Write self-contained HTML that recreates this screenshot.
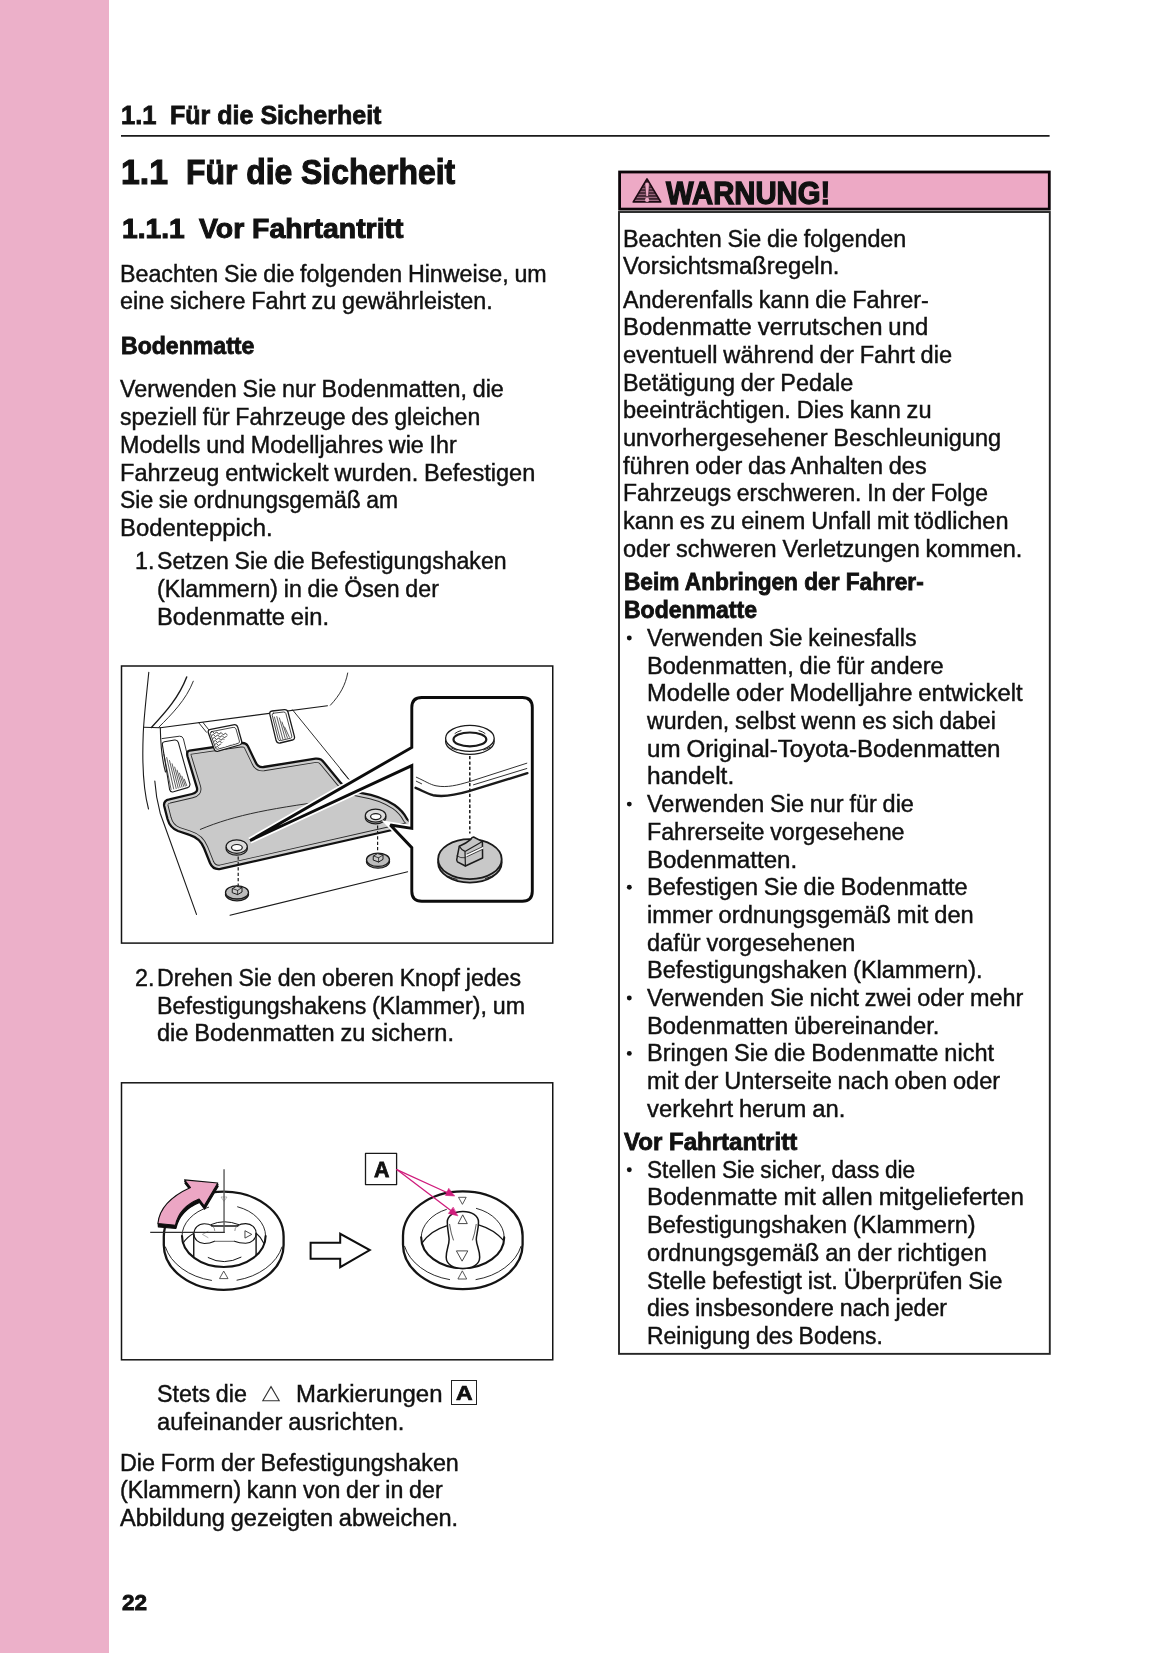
<!DOCTYPE html>
<html lang="de">
<head>
<meta charset="utf-8">
<title>1.1 Für die Sicherheit</title>
<style>
html,body{margin:0;padding:0;background:#fff}
body{width:1165px;height:1653px;position:relative;overflow:hidden;
 font-family:"Liberation Sans",sans-serif;color:#111}
.side{position:absolute;left:0;top:0;width:109px;height:1653px;background:#ecb0c9}
.t{position:absolute;white-space:nowrap;line-height:1;transform-origin:0 50%;margin:0;color:#111}
.b{font-size:23px;font-weight:400;-webkit-text-stroke:0.42px #111;word-spacing:-0.7px}
.bb{font-size:23px;font-weight:700;-webkit-text-stroke:0.8px #111;word-spacing:0px}
.hd{font-size:25px;font-weight:700;-webkit-text-stroke:0.8px #111;word-spacing:0px}
.h1{font-size:34.5px;font-weight:700;-webkit-text-stroke:1.1px #111;word-spacing:0px}
.h2{font-size:27.5px;font-weight:700;-webkit-text-stroke:1px #111;word-spacing:0px}
.wn{font-size:31px;font-weight:700;-webkit-text-stroke:1.3px #111;word-spacing:0px}
.pg{font-size:22px;font-weight:700;-webkit-text-stroke:0.8px #111;word-spacing:0px}
.lbl{font-size:20px;font-weight:700;-webkit-text-stroke:0.7px #111;word-spacing:0px}
.lb2{font-size:22.5px;font-weight:700;-webkit-text-stroke:0.8px #111;word-spacing:0px}
.fig{position:absolute;left:120px;width:434px;height:280px}
.fig svg{position:absolute;left:0;top:0;display:block}
#f1{top:665px}
#f2{top:1082px}
.frame{position:absolute;left:0;top:0}
.tx{position:absolute;left:0;top:0;width:1165px;height:1653px;will-change:transform}
.ico{position:absolute}
</style>
</head>
<body>
<div class="side"></div>
<svg class="frame" width="1165" height="1653" viewBox="0 0 1165 1653" fill="none">
 <path d="M121 135.9 H1049.6" stroke="#1a1a1a" stroke-width="1.7"/>
 <rect x="619.6" y="172" width="429.7" height="37.1" fill="#eda9c5" stroke="#0d0509" stroke-width="2.8"/>
 <rect x="619" y="212" width="430.8" height="1141.85" fill="#fff" stroke="#262626" stroke-width="1.9"/>
 <rect x="121.5" y="666" width="431.25" height="277.1" fill="#fff" stroke="#141414" stroke-width="1.5"/>
 <rect x="121.5" y="1082.8" width="431.25" height="277" fill="#fff" stroke="#141414" stroke-width="1.5"/>
</svg>
<svg class="ico" style="left:630px;top:176px" width="34" height="30" viewBox="630 176 34 30">
 <defs>
  <pattern id="st" x="0" y="177.6" width="40" height="2.95" patternUnits="userSpaceOnUse">
   <rect x="0" y="0" width="40" height="1.75" fill="#1c0a12"/>
   <rect x="0" y="1.75" width="40" height="1.2" fill="#b07690"/>
  </pattern>
 </defs>
 <path d="M647 178.9 L660.7 201.9 L633.3 201.9 Z" fill="url(#st)" stroke="#1c0a12" stroke-width="1.7" stroke-linejoin="round"/>
 <path d="M644.9 183.8 Q647.1 180.6 649.4 183.8 L648.4 196.5 L645.9 196.5 Z" fill="#eda9c5" stroke="#1c0a12" stroke-width="0.5"/>
 <circle cx="647.1" cy="199.9" r="2.1" fill="#eda9c5"/>
</svg>
<div class="fig" id="f1"><svg width="434" height="280" viewBox="120 665 434 280" fill="none" stroke="#1a1a1a" stroke-width="1.1" stroke-linecap="round" stroke-linejoin="round">
 <defs>
  <path id="mat" d="M189.5 750.6 L242 743 Q246 742.8 247.8 746 L255.5 762 Q257.8 767.6 263.5 767 L315.5 758.6 Q321 758 324 762.5 L340.4 782.4 Q347 790.5 362 793.2 Q380 796 394.5 805 Q403 811 407 819 L414 826 L414 825 L390 830.5 L220.5 868.9 Q213 870 210 863 L204 848 Q200 838 189.5 834.8 L178 831 Q170 828 167.5 819 L164.2 806 Q163.2 800.5 169.4 799.3 L192 794 Q198.2 792.5 196.9 787.6 L187.5 756.5 Q186.3 751.2 189.5 750.6 Z"/>
  <clipPath id="matc"><use href="#mat"/></clipPath>
  <clipPath id="brk"><path d="M210.3 731.4 L234.5 726.6 L239.6 742.4 L216.3 749.3 Z"/></clipPath>
 </defs>
 <!-- car body lines -->
 <path d="M148.8 672.2 C146 700 143.6 720 143.2 735 C142 765 143.5 790 148.5 809"/>
 <path d="M186.7 677 C179 697 166 712 151.4 727.4" stroke-width="1.4"/>
 <path d="M193.3 681.2 C186 700 172 714 158.6 727.4" stroke-width="0.9"/>
 <path d="M143.6 727.3 L160.3 727.8 L327.5 705.7"/>
 <path d="M330.4 705.2 C340 695 345.5 685 347.7 673" stroke-width="0.9"/>
 <path d="M160.3 727.8 C160.6 745 162 760 165.5 772"/>
 <path d="M154.8 781 C155.5 792 158 805 160.2 813.2 L196.5 914.4" />
 <path d="M230 915.2 L407.7 871.8"/>
 <path d="M292.5 709.8 L352 783 M340.5 769.5 L348 778.6" stroke-width="0.9"/>
 <!-- dead pedal -->
 <path d="M162 738.6 L179.5 736.2 Q182.5 736 183.4 738.8 L187 753.5" stroke-width="0.9"/>
 <path d="M164.4 741.8 L174.5 740 Q177.3 739.6 178.3 742.4 L189.8 783.5 Q190.6 786.7 187.6 787.6 L173.5 791.8 Q170.5 792.6 169.6 789.5 L162.4 744.8 Q162 742.2 164.4 741.8 Z" fill="#fff"/>
 <path d="M163.9 754.5 L171.1 789.4 M166.7 757.5 L173.7 789 M169.5 760.5 L176.2 788.6 M172.1 763.8 L178.2 788 M174.7 767.1 L180.1 787.5 M177.1 770.2 L182 787 M179.5 773.2 L183.7 786.4 M181.9 776.2 L185.3 786 M184.3 779.2 L186.7 785.6" stroke-width="0.7"/>
 <!-- gas pedal -->
 <path d="M272.2 711 L284.4 709.6 Q287.2 709.4 288 712 L294.4 736.4 Q295.2 739.2 292.4 740 L280 743 Q277 743.6 276.2 740.8 L269.8 714.2 Q269.2 711.4 272.2 711 Z" fill="#fff" stroke-width="1.3"/>
 <path d="M273.4 713.2 L283.6 712 Q285.4 711.9 285.9 713.6 L291.8 736.2 Q292.2 737.8 290.6 738.2 L280.4 740.6 Q278.6 741 278.2 739.2 L272.2 715.2 Q271.8 713.5 273.4 713.2 Z" stroke-width="0.8"/>
 <path d="M274.4 717 L280.4 739.6 M276.8 716.6 L282.8 739 M279.4 718 L285.2 738.4 M282 722 L287.4 737.8 M284.6 727 L289.4 737.2" stroke-width="0.7"/>
 <!-- mat -->
 <use href="#mat" fill="#c9c9c9" stroke="none"/>
 <g clip-path="url(#matc)">
  <use href="#mat" stroke="#2a2a2a" stroke-width="8.6"/>
  <use href="#mat" stroke="#cecece" stroke-width="6.8"/>
 </g>
 <use href="#mat" stroke="#111" stroke-width="2.3"/>
 <path d="M200.3 829.4 C236 814.5 272 808 345 798.5" stroke-width="0.9"/>
 <!-- brake pedal -->
 <path d="M198.7 722.7 L206.5 732.3 M202.9 722.4 L208.6 729.6" stroke-width="0.9"/>
 <path d="M210.6 729.4 L233.4 724.8 Q236.8 724.2 237.8 727.4 L241.6 741 Q242.4 744 239.4 745 L218.2 751.2 Q215.2 752 214.2 749.2 L208.4 733 Q207.4 730 210.6 729.4 Z" fill="#fff" stroke-width="1.3"/>
 <path d="M211.6 731.6 L233 727.4 Q235.4 727 236 729 L239.4 741 Q240 742.8 238 743.4 L218 749.2 Q216.2 749.7 215.6 748 L210.4 733.6 Q209.8 732 211.6 731.6 Z" stroke-width="0.8"/>
 <g clip-path="url(#brk)" stroke-width="0.8">
  <path d="M210 733 l2.4 -1.6 l2 2.2 l2.4 -1.6 l2 2.2 l2.4 -1.6 l2 2.2 l2.4 -1.6 l2 2.2"/>
  <path d="M211 736 l2.4 -1.6 l2 2.2 l2.4 -1.6 l2 2.2 l2.4 -1.6 l2 2.2 l2.4 -1.6 l2 2.2 l2.4 -1.6"/>
  <path d="M212 739 l2.4 -1.6 l2 2.2 l2.4 -1.6 l2 2.2 l2.4 -1.6 l2 2.2 l2.4 -1.6 l2 2.2 l2.4 -1.6 l2 2.2"/>
  <path d="M213 742 l2.4 -1.6 l2 2.2 l2.4 -1.6 l2 2.2 l2.4 -1.6 l2 2.2 l2.4 -1.6 l2 2.2 l2.4 -1.6 l2 2.2 l2.4 -1.6"/>
  <path d="M214 745 l2.4 -1.6 l2 2.2 l2.4 -1.6 l2 2.2 l2.4 -1.6 l2 2.2 l2.4 -1.6 l2 2.2 l2.4 -1.6 l2 2.2 l2.4 -1.6"/>
  <path d="M215 748 l2.4 -1.6 l2 2.2 l2.4 -1.6 l2 2.2 l2.4 -1.6 l2 2.2 l2.4 -1.6 l2 2.2 l2.4 -1.6 l2 2.2 l2.4 -1.6"/>
 </g>
 <path d="M233.5 727.6 L238 742.6 L218 748.6 Z" fill="#fff" stroke="none"/>
 <!-- grommets on mat -->
 <g stroke-width="1.2">
  <ellipse cx="236.7" cy="848.4" rx="10.6" ry="6.7" fill="#bdbdbd"/>
  <ellipse cx="236.7" cy="846.6" rx="10.6" ry="6.7" fill="#dcdcdc"/>
  <ellipse cx="236.9" cy="847.6" rx="5.4" ry="3.1" fill="#fff"/>
  <ellipse cx="375.6" cy="817.4" rx="10.3" ry="6.5" fill="#bdbdbd"/>
  <ellipse cx="375.6" cy="815.6" rx="10.3" ry="6.5" fill="#dcdcdc"/>
  <ellipse cx="375.8" cy="816.6" rx="5.2" ry="3" fill="#fff"/>
 </g>
 <path d="M238.2 856.5 V886" stroke-dasharray="3.2 2.2" stroke-linecap="butt" stroke-width="1.2"/>
 <path d="M377.6 825.5 V852" stroke-dasharray="3.2 2.2" stroke-linecap="butt" stroke-width="1.2"/>
 <!-- clips -->
 <g stroke-width="1.3">
  <ellipse cx="237" cy="894.2" rx="11.5" ry="6.6" fill="#9c9c9c"/>
  <ellipse cx="237" cy="892.4" rx="11.5" ry="6.6" fill="#bcbcbc"/>
  <path d="M232.6 888.6 L236.4 886.2 L242 887.6 L242 892 L237.6 894.6 L232.6 892.8 Z" fill="#c8c8c8" stroke-width="1"/>
  <path d="M232.6 888.6 L237.6 890.4 L242 887.6 M237.6 890.4 V894.6" stroke-width="0.8"/>
  <ellipse cx="378" cy="861.6" rx="11.5" ry="6.6" fill="#9c9c9c"/>
  <ellipse cx="378" cy="859.8" rx="11.5" ry="6.6" fill="#bcbcbc"/>
  <path d="M373.6 856 L377.4 853.6 L383 855 L383 859.4 L378.6 862 L373.6 860.2 Z" fill="#c8c8c8" stroke-width="1"/>
  <path d="M373.6 856 L378.6 857.8 L383 855 M378.6 857.8 V862" stroke-width="0.8"/>
 </g>
 <!-- callout -->
 <path id="co" d="M421.8 697.5 H522.3 Q532.3 697.5 532.3 707.5 V891.2 Q532.3 901.2 522.3 901.2 H421.8 Q411.8 901.2 411.8 891.2 V847.7 L390.3 825 L411.8 828.4 V765.6 L250 840.6 L411.8 747.4 V707.5 Q411.8 697.5 421.8 697.5 Z" fill="#fff" stroke="#fff" stroke-width="6.4" stroke-linejoin="miter"/>
 <path d="M421.8 697.5 H522.3 Q532.3 697.5 532.3 707.5 V891.2 Q532.3 901.2 522.3 901.2 H421.8 Q411.8 901.2 411.8 891.2 V847.7 L390.3 825 L411.8 828.4 V765.6 L250 840.6 L411.8 747.4 V707.5 Q411.8 697.5 421.8 697.5 Z" fill="#fff" stroke="#0c0c0c" stroke-width="2.9" stroke-linejoin="miter" stroke-miterlimit="3"/>
 <!-- ring -->
 <g stroke-width="1.3">
  <ellipse cx="469.9" cy="741.3" rx="24.3" ry="13" fill="#fff"/>
  <ellipse cx="469.9" cy="738.3" rx="24.3" ry="13" fill="#fff"/>
  <ellipse cx="469.9" cy="739.4" rx="16.4" ry="6.9" stroke-width="2.2"/>
  <path d="M455 733.4 Q457.5 731.4 461 730.6 M479 730.6 Q482.5 731.4 485 733.4" stroke-width="0.9"/>
  <path d="M451 747.8 Q454 749.5 457 750.2 M483.5 750 Q487 749 490.2 747.2" stroke-width="0.9"/>
 </g>
 <path d="M469.8 756 V833.5" stroke-dasharray="3.3 2.1" stroke-linecap="butt" stroke-width="1.5"/>
 <!-- mat edge in callout -->
 <path d="M415.6 787.8 C423 791 428 794 433 795.2 C445 797.6 458 794.4 469 791.2 L527.4 773.2" stroke-width="2.4"/>
 <path d="M416.3 777.2 C425 781 430 784.6 436 785.8 C447 788 458 785 469 781.8 L526.8 763.2" stroke-width="0.9"/>
 <path d="M416.3 781.2 L421.6 783.8 M473.5 784.8 L526.8 768.5" stroke-width="0.9"/>
 <!-- big clip -->
 <g stroke-width="1.8">
  <ellipse cx="469.9" cy="862.6" rx="31.8" ry="20" fill="#bdbdbd"/>
  <ellipse cx="469.9" cy="859.2" rx="31.8" ry="20" fill="#c8c8c8"/>
  <path d="M448 876.2 Q452 878.4 457 879.4 M485.5 878.6 Q492 876.8 496.5 873.6" stroke-width="1"/>
 </g>
 <g stroke-width="1.5" fill="#c4c4c4">
  <path d="M459.3 846.2 Q466 843.6 470.8 839.4 Q471.8 837.2 473.6 837 L482.4 841.6 L482.6 858 L465.4 866 L457.4 861.8 Q456.2 860.4 457 858 Z"/>
  <path d="M459.3 846.2 Q461.5 850 465 851.4 L482.4 841.6 M465 851.4 L465.4 866" fill="none" stroke-width="1.2"/>
  <path d="M467 855.2 L482.4 848" stroke="#fff" stroke-width="2.2"/>
  <path d="M467 854 L482.4 846.8 M467 856.6 L482.4 849.4" fill="none" stroke-width="0.8"/>
  <path d="M457 856 Q460.5 858.4 465.2 857.8" fill="none" stroke-width="0.8"/>
 </g>
</svg>
</div>
<div class="fig" id="f2"><svg width="434" height="280" viewBox="120 1082 434 280" fill="none" stroke="#141414" stroke-width="1" stroke-linecap="round" stroke-linejoin="round">
 <!-- ============ left knob ============ -->
 <g>
  <!-- outer ring -->
  <path d="M163.8 1236.5 V1245 A59.9 44.8 0 0 0 283.6 1245 V1236.5 A59.9 44.8 0 0 0 163.8 1236.5 Z" fill="#fff" stroke-width="2.3"/>
  <path d="M165.4 1247 A59.9 44.8 0 0 0 211.5 1280.4 M237 1280.2 A59.9 44.8 0 0 0 282 1247" stroke-width="0.9"/>
  <!-- inner hole -->
  <path d="M182 1236 A41.8 31 0 0 0 265.6 1236" stroke-width="2.1"/>
  <path d="M182 1236 A41.8 31 0 0 1 208.6 1207.2 M237.6 1206.8 A41.8 31 0 0 1 265.6 1236" stroke-width="0.9"/>
  <path d="M183.1 1243.3 Q187 1237 193.6 1233.6 M256.2 1233.2 Q261 1237 263.8 1243.3" stroke-width="1.1"/>
  <!-- post -->
  <path d="M193.75 1234.6 V1256.8 M256.1 1233.4 V1255.6" stroke-width="1.4"/>
  <path d="M208.2 1257.6 Q224 1266 241 1257.2" stroke-width="1"/>
  <path d="M210.9 1224.6 Q224 1218.8 238.7 1224.6" stroke-width="1"/>
  <path d="M214.6 1241.2 C211 1243 207.5 1243.5 204.3 1243.5 C198.4 1243.5 193.9 1239.2 193.9 1233.8 C193.9 1228 198.4 1223.7 204.3 1223.7 C207.4 1223.7 210 1224.4 212.4 1225.9 M237.2 1225.9 C239.6 1224.4 242.4 1223.6 245.7 1223.6 C251.6 1223.6 256.1 1227.8 256.1 1233.4 C256.1 1239 251.6 1243.3 245.7 1243.3 C242 1243.3 238 1242.8 234.4 1241.2" stroke-width="1.1"/>
  <path d="M214.6 1241.3 H234.4" stroke="#555" stroke-width="0.9"/>
  <path d="M212 1226 H237.6" stroke-width="1.7"/>
  <path d="M212.4 1225.9 Q215 1228 214.8 1230.6 M237.2 1225.9 Q234.6 1228 234.8 1230.6" stroke-width="0.7" stroke="#666"/>
  <!-- marks -->
  <path d="M245.3 1230.9 L251.8 1234.4 L245.3 1237.9 Z" stroke-width="0.9" stroke="#333"/>
  <path d="M208 1231.4 L202.4 1234.4 L208 1237.6" stroke-width="0.8" stroke="#999"/>
  <path d="M223.9 1271.4 L228 1278.6 H219.9 Z" stroke-width="0.9" stroke="#444"/>
  <path d="M221.4 1197 H227 L224.2 1201 Z" stroke-width="0.7" stroke="#999"/>
 </g>
 <!-- crosshair -->
 <path d="M224.05 1169.2 V1232.9" stroke="#5a5a5a" stroke-width="1.4" stroke-linecap="butt"/>
 <path d="M224.7 1232.4 H150.2" stroke="#2e2e2e" stroke-width="1.1" stroke-linecap="butt"/>
 <!-- pink arrow -->
 <g transform="translate(0.4 3.3)"><path d="M157.9 1223.5 C159.2 1210 168.5 1197.5 190.5 1187.5 L184.5 1179.9 L217.8 1183 L204.2 1205.9 L199.1 1199.1 C187 1204 178 1213 175.5 1225.2 Z" fill="#0e0e0e" stroke="#0e0e0e" stroke-width="1.2"/></g>
 <g transform="translate(0.2 1.6)"><path d="M157.9 1223.5 C159.2 1210 168.5 1197.5 190.5 1187.5 L184.5 1179.9 L217.8 1183 L204.2 1205.9 L199.1 1199.1 C187 1204 178 1213 175.5 1225.2 Z" fill="#0e0e0e" stroke="#0e0e0e" stroke-width="1.2"/></g>
 <path d="M157.9 1223.5 C159.2 1210 168.5 1197.5 190.5 1187.5 L184.5 1179.9 L217.8 1183 L204.2 1205.9 L199.1 1199.1 C187 1204 178 1213 175.5 1225.2 Z" fill="#eca6c4" stroke="#0e0e0e" stroke-width="1.1"/>
 <!-- hollow arrow -->
 <path d="M310.6 1242.7 H340.2 V1233.8 L369.8 1250 L340.2 1267.2 V1258.7 H310.6 Z" fill="#fff" stroke="#0e0e0e" stroke-width="2" stroke-linejoin="miter"/>
 <!-- A label -->
 <rect x="365.5" y="1153.4" width="31.1" height="31.2" fill="#fff" stroke="#1a1a1a" stroke-width="1.3"/>
 <!-- ============ right knob ============ -->
 <g>
  <path d="M403 1235.8 V1244.6 A59.8 44.5 0 0 0 522.6 1244.6 V1235.8 A59.8 44.5 0 0 0 403 1235.8 Z" fill="#fff" stroke-width="2.3"/>
  <path d="M404.6 1246.4 A59.8 44.5 0 0 0 449.6 1279.6 M476 1279.6 A59.8 44.5 0 0 0 521 1246.4" stroke-width="0.9"/>
  <path d="M421.2 1237.4 A41.5 30.8 0 0 0 504.2 1237.4" stroke-width="2.1"/>
  <path d="M421.2 1237.4 A41.5 30.8 0 0 1 446.4 1209.4 M476.4 1208.4 A41.5 30.8 0 0 1 504.2 1237.4" stroke-width="0.9"/>
  <path d="M422.3 1242.6 Q431 1230.4 446.6 1225.8 M478.6 1224.8 Q494 1229.4 503.5 1240.4" stroke-width="1.3"/>
  <!-- post -->
  <path d="M447.3 1222 C447.3 1215.6 454 1211.4 462.9 1211.4 C471.8 1211.4 478.5 1215.6 478.5 1222 C478.5 1230 476.2 1235 476.3 1239.4 C476.4 1245 479.8 1250 479.7 1257.2 C479.6 1264.6 472.5 1268.4 462.9 1268.4 C453.4 1268.4 446.3 1264.6 446.2 1257.2 C446.1 1250 449.2 1245 449.1 1239.4 C449 1235 447.3 1230 447.3 1222 Z" fill="#fff" stroke-width="1.5"/>
  <path d="M449.6 1224.4 Q451 1234 453.4 1240 M476.2 1224.4 Q474.8 1234 472.6 1240" stroke-width="0.7"/>
  <path d="M462.9 1215.2 L467.3 1223.6 H458.5 Z" stroke-width="0.9" stroke="#333"/>
  <path d="M456.8 1250.9 H467.8 L462.3 1260.8 Z" stroke-width="0.9" stroke="#333"/>
  <path d="M458.9 1197.3 H466.2 L462.6 1204 Z" stroke-width="0.9" stroke="#444"/>
  <path d="M462.5 1271.2 L466.7 1279 H458.3 Z" stroke-width="0.9" stroke="#444"/>
 </g>
 <!-- magenta leaders -->
 <g stroke="#d01c7c" fill="#d01c7c" stroke-width="1.3">
  <path d="M396.8 1169.6 L448 1193"/>
  <path d="M396.8 1169.6 L451.5 1211"/>
  <path d="M454.4 1196 L445.4 1195.4 L448.6 1188.6 Z" stroke-width="0.6"/>
  <path d="M457.6 1215.8 L448.4 1213.4 L453 1207.4 Z" stroke-width="0.6"/>
 </g>
</svg>
</div>
<div class="tx">
<div class="t hd" style="left:120.98px;top:103px;transform:scaleX(1.0222)">1.1</div>
<div class="t hd" style="left:170.00px;top:103px;transform:scaleX(1.0013)">Für die Sicherheit</div>
<div class="t h1" style="left:120.64px;top:155px;transform:scaleX(0.9788)">1.1</div>
<div class="t h1" style="left:186.15px;top:155px;transform:scaleX(0.9237)">Für die Sicherheit</div>
<div class="t h2" style="left:121.57px;top:215px;transform:scaleX(1.0256)">1.1.1</div>
<div class="t h2" style="left:199.00px;top:215px;transform:scaleX(1.0321)">Vor Fahrtantritt</div>
<div class="t b" style="left:120.35px;top:263px;transform:scaleX(1.0105)">Beachten Sie die folgenden Hinweise, um</div>
<div class="t b" style="left:120.35px;top:290px;transform:scaleX(1.0169)">eine sichere Fahrt zu gewährleisten.</div>
<div class="t bb" style="left:120.60px;top:335px;transform:scaleX(1.0037)">Bodenmatte</div>
<div class="t b" style="left:120.35px;top:378px;transform:scaleX(1.0148)">Verwenden Sie nur Bodenmatten, die</div>
<div class="t b" style="left:120.35px;top:406px;transform:scaleX(1.0034)">speziell für Fahrzeuge des gleichen</div>
<div class="t b" style="left:120.35px;top:434px;transform:scaleX(1.0141)">Modells und Modelljahres wie Ihr</div>
<div class="t b" style="left:120.35px;top:462px;transform:scaleX(1.0235)">Fahrzeug entwickelt wurden. Befestigen</div>
<div class="t b" style="left:120.35px;top:489px;transform:scaleX(0.9966)">Sie sie ordnungsgemäß am</div>
<div class="t b" style="left:120.35px;top:517px;transform:scaleX(1.0383)">Bodenteppich.</div>
<div class="t b" style="left:135.29px;top:550px;transform:scaleX(1.0124)">1.</div>
<div class="t b" style="left:156.80px;top:550px;transform:scaleX(1.0038)">Setzen Sie die Befestigungshaken</div>
<div class="t b" style="left:156.80px;top:578px;transform:scaleX(1.0077)">(Klammern) in die Ösen der</div>
<div class="t b" style="left:156.80px;top:606px;transform:scaleX(1.0320)">Bodenmatte ein.</div>
<div class="t b" style="left:134.99px;top:967px;transform:scaleX(1.0124)">2.</div>
<div class="t b" style="left:156.80px;top:967px;transform:scaleX(1.0050)">Drehen Sie den oberen Knopf jedes</div>
<div class="t b" style="left:156.80px;top:995px;transform:scaleX(1.0104)">Befestigungshakens (Klammer), um</div>
<div class="t b" style="left:156.80px;top:1022px;transform:scaleX(1.0260)">die Bodenmatten zu sichern.</div>
<div class="t b" style="left:156.80px;top:1383px;transform:scaleX(1.0125)">Stets die</div>
<div class="t b" style="left:295.56px;top:1383px;transform:scaleX(1.0415)">Markierungen</div>
<div class="t b" style="left:156.80px;top:1411px;transform:scaleX(1.0315)">aufeinander ausrichten.</div>
<div class="t b" style="left:120.35px;top:1452px;transform:scaleX(1.0141)">Die Form der Befestigungshaken</div>
<div class="t b" style="left:120.35px;top:1479px;transform:scaleX(1.0084)">(Klammern) kann von der in der</div>
<div class="t b" style="left:120.35px;top:1507px;transform:scaleX(1.0254)">Abbildung gezeigten abweichen.</div>
<div class="t pg" style="left:121.60px;top:1592px;transform:scaleX(1.0233)">22</div>
<div class="t lbl" style="left:456.00px;top:1383px;transform:scaleX(1.1500)">A</div>
<div class="t lb2" style="left:373.60px;top:1159px;transform:scaleX(0.9500)">A</div>
<div class="t wn" style="left:665.90px;top:178px;transform:scaleX(0.9447)">WARNUNG!</div>
<div class="t b" style="left:623.20px;top:228px;transform:scaleX(1.0146)">Beachten Sie die folgenden</div>
<div class="t b" style="left:623.20px;top:255px;transform:scaleX(1.0324)">Vorsichtsmaßregeln.</div>
<div class="t b" style="left:623.20px;top:289px;transform:scaleX(1.0165)">Anderenfalls kann die Fahrer-</div>
<div class="t b" style="left:623.20px;top:316px;transform:scaleX(1.0383)">Bodenmatte verrutschen und</div>
<div class="t b" style="left:623.20px;top:344px;transform:scaleX(1.0263)">eventuell während der Fahrt die</div>
<div class="t b" style="left:623.20px;top:372px;transform:scaleX(1.0176)">Betätigung der Pedale</div>
<div class="t b" style="left:623.20px;top:399px;transform:scaleX(1.0252)">beeinträchtigen. Dies kann zu</div>
<div class="t b" style="left:623.20px;top:427px;transform:scaleX(1.0251)">unvorhergesehener Beschleunigung</div>
<div class="t b" style="left:623.20px;top:455px;transform:scaleX(1.0199)">führen oder das Anhalten des</div>
<div class="t b" style="left:623.20px;top:482px;transform:scaleX(0.9952)">Fahrzeugs erschweren. In der Folge</div>
<div class="t b" style="left:623.20px;top:510px;transform:scaleX(1.0232)">kann es zu einem Unfall mit tödlichen</div>
<div class="t b" style="left:623.20px;top:538px;transform:scaleX(1.0229)">oder schweren Verletzungen kommen.</div>
<div class="t bb" style="left:623.50px;top:571px;transform:scaleX(0.9840)">Beim Anbringen der Fahrer-</div>
<div class="t bb" style="left:623.50px;top:599px;transform:scaleX(1.0007)">Bodenmatte</div>
<div class="t b" style="left:647.00px;top:627px;transform:scaleX(1.0090)">Verwenden Sie keinesfalls</div>
<div class="t b" style="left:647.00px;top:655px;transform:scaleX(1.0248)">Bodenmatten, die für andere</div>
<div class="t b" style="left:647.00px;top:682px;transform:scaleX(1.0331)">Modelle oder Modelljahre entwickelt</div>
<div class="t b" style="left:647.00px;top:710px;transform:scaleX(1.0058)">wurden, selbst wenn es sich dabei</div>
<div class="t b" style="left:647.00px;top:738px;transform:scaleX(1.0497)">um Original-Toyota-Bodenmatten</div>
<div class="t b" style="left:647.00px;top:765px;transform:scaleX(1.0652)">handelt.</div>
<div class="t b" style="left:647.00px;top:793px;transform:scaleX(1.0192)">Verwenden Sie nur für die</div>
<div class="t b" style="left:647.00px;top:821px;transform:scaleX(1.0098)">Fahrerseite vorgesehene</div>
<div class="t b" style="left:647.00px;top:849px;transform:scaleX(1.0485)">Bodenmatten.</div>
<div class="t b" style="left:647.00px;top:876px;transform:scaleX(1.0216)">Befestigen Sie die Bodenmatte</div>
<div class="t b" style="left:647.00px;top:904px;transform:scaleX(1.0291)">immer ordnungsgemäß mit den</div>
<div class="t b" style="left:647.00px;top:932px;transform:scaleX(1.0221)">dafür vorgesehenen</div>
<div class="t b" style="left:647.00px;top:959px;transform:scaleX(1.0234)">Befestigungshaken (Klammern).</div>
<div class="t b" style="left:647.00px;top:987px;transform:scaleX(1.0174)">Verwenden Sie nicht zwei oder mehr</div>
<div class="t b" style="left:647.00px;top:1015px;transform:scaleX(1.0323)">Bodenmatten übereinander.</div>
<div class="t b" style="left:647.00px;top:1042px;transform:scaleX(1.0251)">Bringen Sie die Bodenmatte nicht</div>
<div class="t b" style="left:647.00px;top:1070px;transform:scaleX(1.0259)">mit der Unterseite nach oben oder</div>
<div class="t b" style="left:647.00px;top:1098px;transform:scaleX(1.0350)">verkehrt herum an.</div>
<div class="t bb" style="left:623.50px;top:1131px;transform:scaleX(1.0450)">Vor Fahrtantritt</div>
<div class="t b" style="left:647.00px;top:1159px;transform:scaleX(0.9857)">Stellen Sie sicher, dass die</div>
<div class="t b" style="left:647.00px;top:1186px;transform:scaleX(1.0519)">Bodenmatte mit allen mitgelieferten</div>
<div class="t b" style="left:647.00px;top:1214px;transform:scaleX(1.0225)">Befestigungshaken (Klammern)</div>
<div class="t b" style="left:647.00px;top:1242px;transform:scaleX(1.0287)">ordnungsgemäß an der richtigen</div>
<div class="t b" style="left:647.00px;top:1270px;transform:scaleX(1.0307)">Stelle befestigt ist. Überprüfen Sie</div>
<div class="t b" style="left:647.00px;top:1297px;transform:scaleX(1.0053)">dies insbesondere nach jeder</div>
<div class="t b" style="left:647.00px;top:1325px;transform:scaleX(0.9972)">Reinigung des Bodens.</div>
</div>
<svg class="frame" width="1165" height="1653" viewBox="0 0 1165 1653" fill="#111">
<circle cx="629.3" cy="638.0" r="2.45"/>
<circle cx="629.3" cy="804.1" r="2.45"/>
<circle cx="629.3" cy="887.2" r="2.45"/>
<circle cx="629.3" cy="998.0" r="2.45"/>
<circle cx="629.3" cy="1053.4" r="2.45"/>
<circle cx="629.3" cy="1169.8" r="2.45"/>
</svg>
<!-- inline triangle mark and A label in caption -->
<svg class="ico" style="left:258px;top:1382px" width="26" height="24" viewBox="258 1382 26 24">
 <path d="M271 1386.6 L279.2 1400.8 L262.8 1400.8 Z" fill="none" stroke="#333" stroke-width="1.1" stroke-linejoin="miter"/>
</svg>
<div class="abox" style="position:absolute;left:450.9px;top:1380px;width:26.1px;height:25.3px;border:1.2px solid #222;box-sizing:border-box"></div>
</body>
</html>
